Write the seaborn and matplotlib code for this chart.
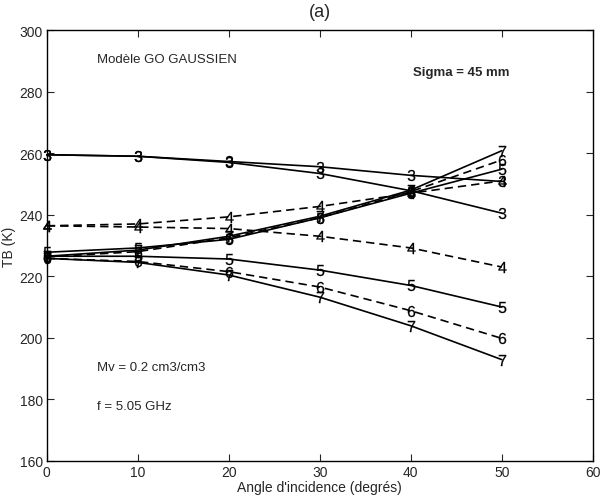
import matplotlib
matplotlib.use("Agg")
import matplotlib.pyplot as plt
import seaborn as sns
import pandas as pd

sns.set_theme(style="ticks")
plt.rcParams['font.family'] = ['Liberation Sans', 'DejaVu Sans']
plt.rcParams['mathtext.fontset'] = 'custom'
plt.rcParams['mathtext.rm'] = 'Liberation Sans'
plt.rcParams['mathtext.it'] = 'Liberation Sans'

angles = [0, 10, 20, 30, 40, 50]
labels = ["3", "4", "5", "6", "7"]

# increasing curves
tb_3v = [259.5, 259.0, 257.3, 255.6, 252.8, 250.8]
tb_4v = [236.4, 237.0, 239.3, 242.7, 247.0, 251.0]
tb_5v = [227.8, 229.2, 232.0, 239.0, 247.0, 254.8]
tb_6v = [226.3, 228.0, 232.5, 239.0, 247.5, 257.8]
tb_7v = [226.5, 228.5, 233.0, 239.5, 248.0, 260.8]
# decreasing curves
tb_3h = [259.5, 259.0, 257.0, 253.4, 247.8, 240.5]
tb_4h = [236.4, 236.0, 235.5, 233.0, 229.2, 223.0]
tb_5h = [226.5, 226.5, 225.6, 222.0, 217.0, 210.0]
tb_6h = [225.8, 224.8, 221.5, 216.5, 208.8, 199.8]
tb_7h = [225.8, 224.5, 220.4, 213.2, 203.9, 192.9]

series = {
    ("3", "V"): tb_3v, ("4", "V"): tb_4v, ("5", "V"): tb_5v, ("6", "V"): tb_6v, ("7", "V"): tb_7v,
    ("3", "H"): tb_3h, ("4", "H"): tb_4h, ("5", "H"): tb_5h, ("6", "H"): tb_6h, ("7", "H"): tb_7h,
}
rows = []
for (lab, pol), vals in series.items():
    for a, v in zip(angles, vals):
        rows.append({"angle": a, "TB": v, "curve": lab + pol, "label": lab})
df = pd.DataFrame(rows)

dashed = {"4", "6"}
curves = list(df["curve"].unique())
dashes = {c: ((5, 3) if c[0] in dashed else "") for c in curves}
markers = {c: f"${c[0]}$" for c in curves}
palette = {c: "black" for c in curves}

fig = plt.figure(figsize=(6.08, 5.02), dpi=100)
ax = fig.add_axes([0.077, 0.080, 0.898, 0.858])
sns.lineplot(data=df, x="angle", y="TB", hue="curve", style="curve",
             palette=palette, dashes=dashes, markers=markers,
             markersize=8, markeredgewidth=0.15, markeredgecolor="black",
             markerfacecolor="black", linewidth=1.2,
             legend=False, ax=ax, sort=False, clip_on=False)

ax.set_xlim(0, 60)
ax.set_ylim(160, 300)
ax.set_xticks(range(0, 61, 10))
ax.set_yticks(range(160, 301, 20))
ax.tick_params(direction="in", top=True, right=True, length=5, width=0.8, labelsize=10, pad=3)
for s in ax.spines.values():
    s.set_linewidth(1.0)
    s.set_color("black")
ax.set_xlabel("Angle d'incidence (degrés)", fontsize=10, labelpad=1)
ax.set_ylabel("TB (K)", fontsize=10, labelpad=2)
ax.set_title("(a)", fontsize=13, pad=10)

ax.text(5.5, 290.7, "Modèle GO GAUSSIEN", fontsize=9.5, va="center")
ax.text(40.2, 286.4, "Sigma = 45 mm", fontsize=9.5, va="center", fontweight="bold")
ax.text(5.5, 190.4, "Mv = 0.2 cm3/cm3", fontsize=9.5, va="center")
ax.text(5.5, 177.8, "f = 5.05 GHz", fontsize=9.5, va="center")

fig.savefig("out.png", dpi=100)
